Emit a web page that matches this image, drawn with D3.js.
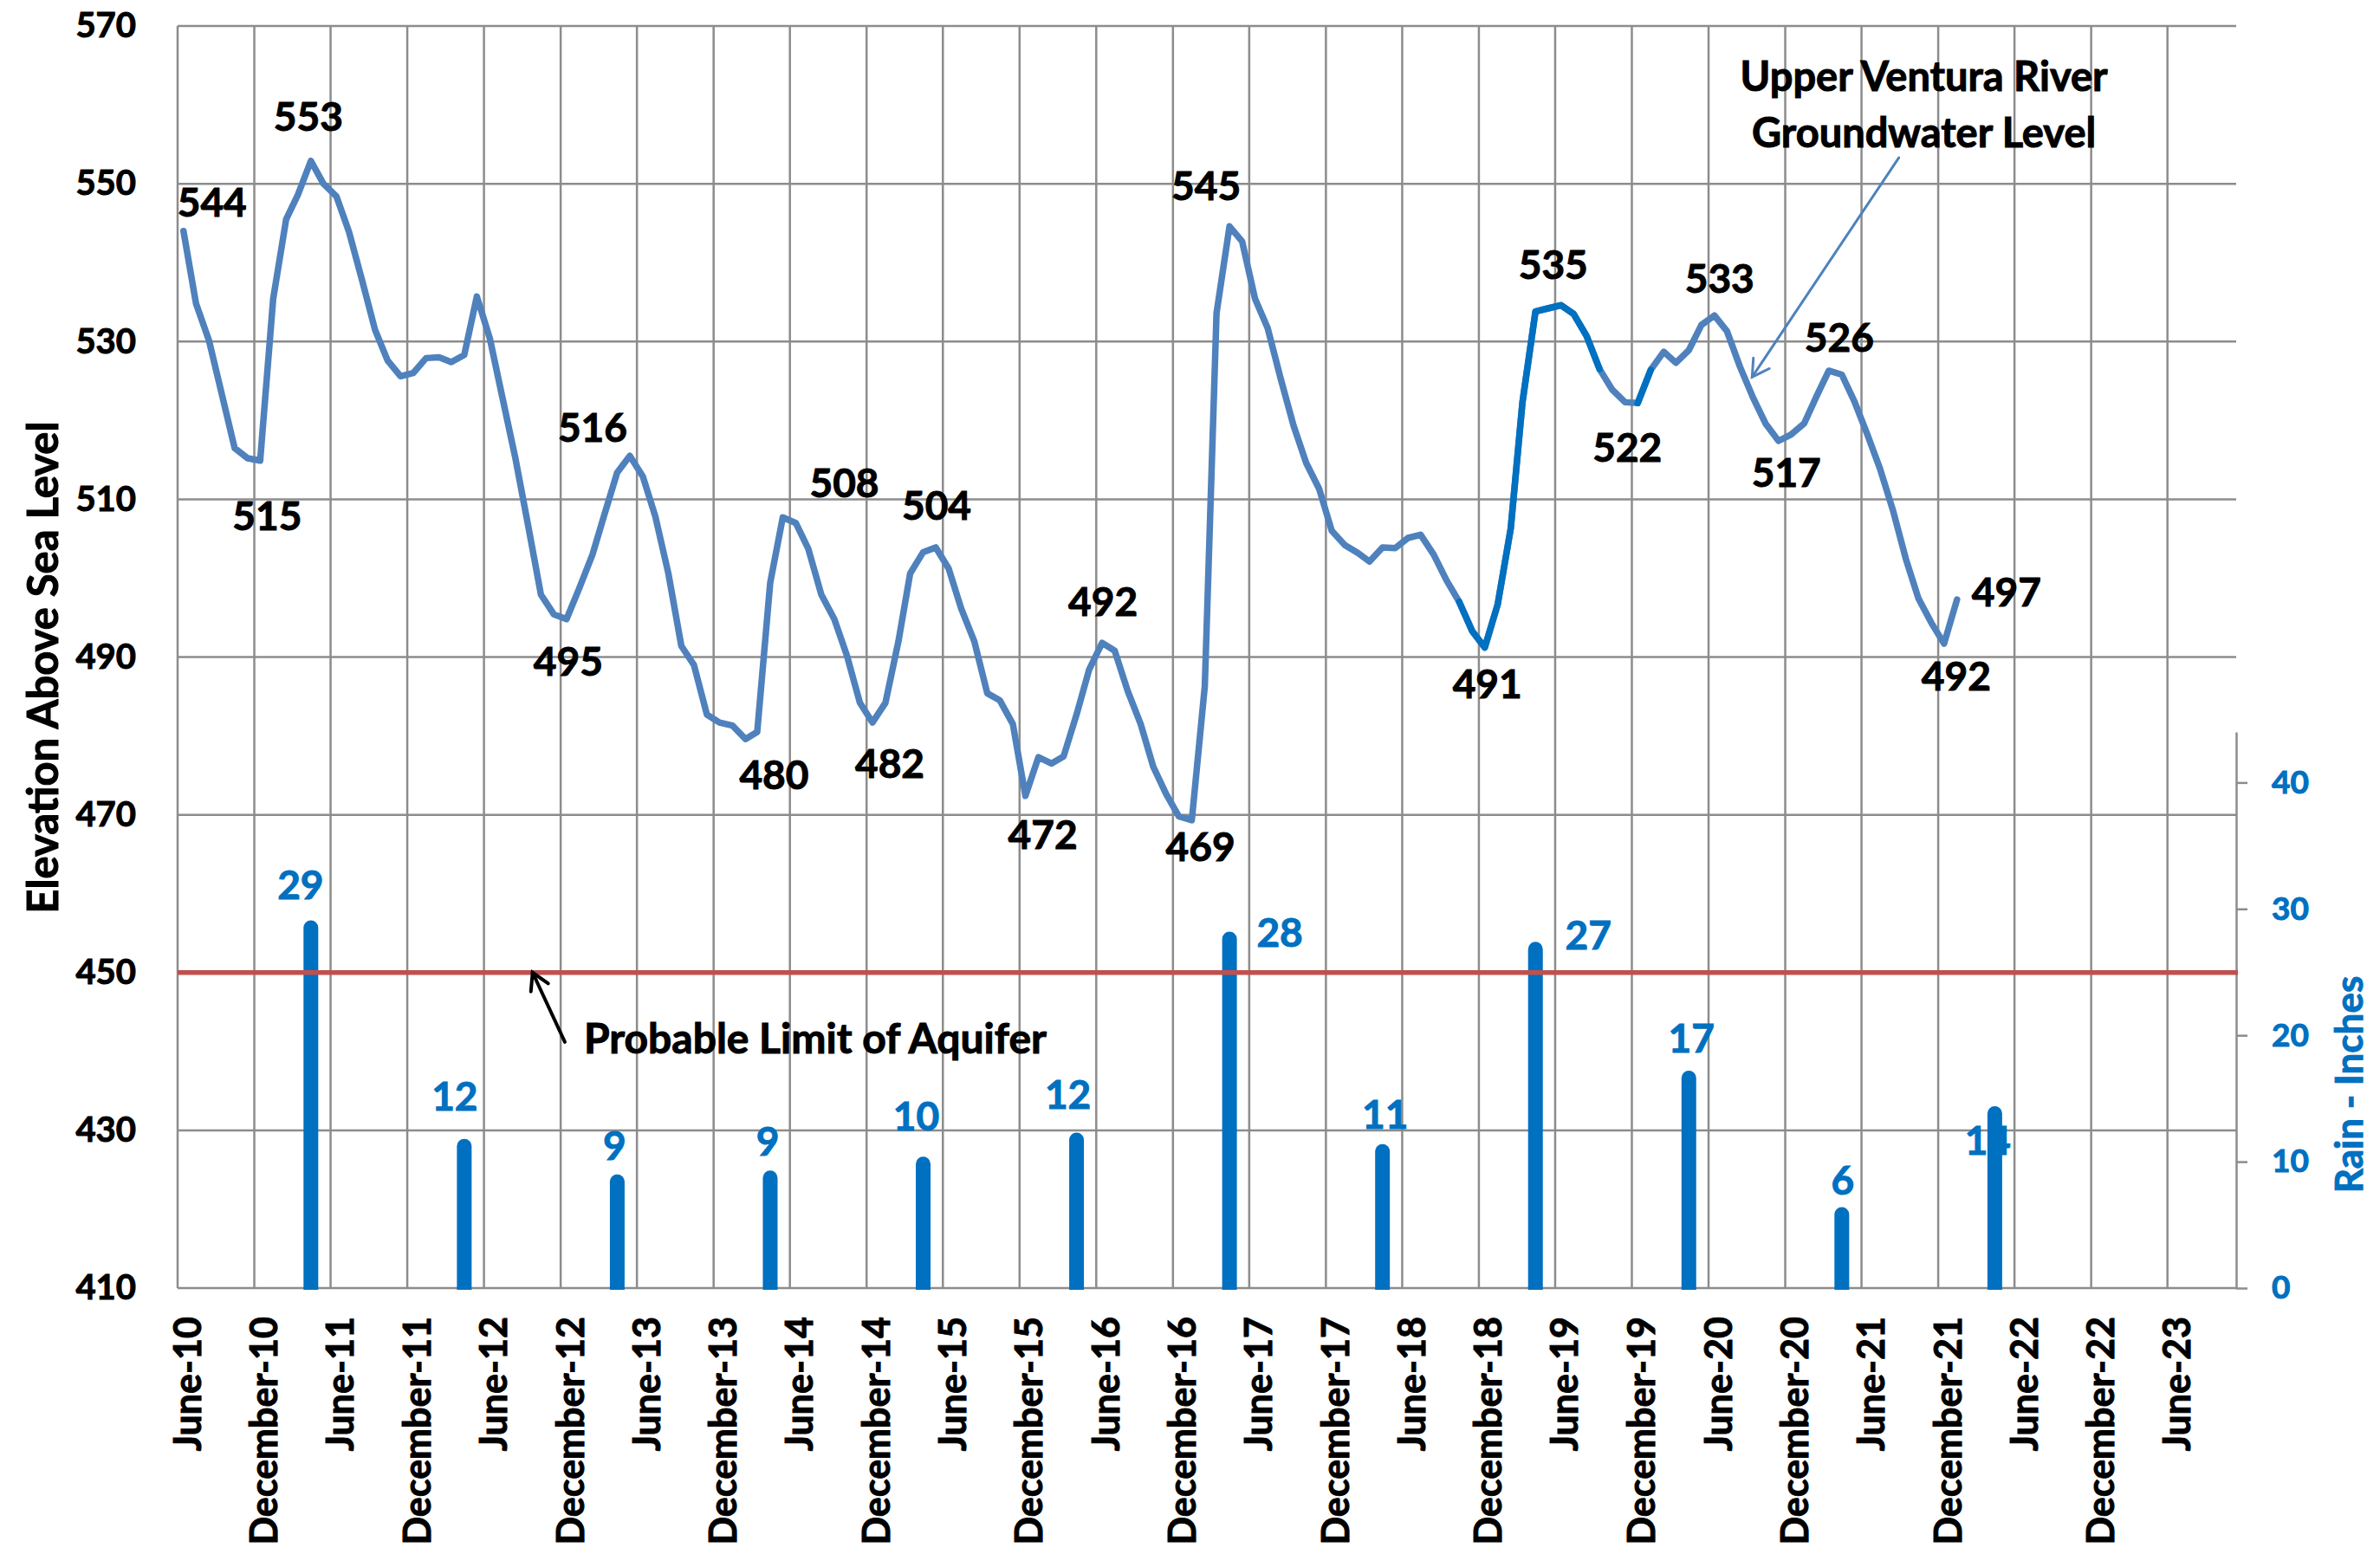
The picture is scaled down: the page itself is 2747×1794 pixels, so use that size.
<!DOCTYPE html>
<html>
<head>
<meta charset="utf-8">
<script src="https://cdn.jsdelivr.net/npm/d3@7"></script>
<style>
  body { margin: 0; background: #fff; }
  text { font-family: Lato, "Open Sans", sans-serif; font-weight: 700; stroke-width: 1px; }
</style>
</head>
<body>
<svg width="2747" height="1794"></svg>
<script>
// monthly groundwater level (ft), one reading per month starting June 2010
const levels = [
  544.0, 534.8, 530.1, 523.2, 516.5, 515.2, 514.9, 535.4, 545.5, 548.6,
  552.9, 550.0, 548.4, 543.9, 537.8, 531.5, 527.6, 525.6, 526.0, 527.9,
  528.0, 527.4, 528.3, 535.7, 530.4, 522.9, 515.2, 506.5, 497.9, 495.4,
  494.8, 498.8, 503.0, 508.0, 513.4, 515.5, 512.9, 507.8, 500.6, 491.4,
  489.0, 482.7, 481.7, 481.3, 479.6, 480.5, 499.4, 507.7, 507.0, 503.7,
  497.9, 494.8, 490.2, 484.2, 481.7, 484.2, 492.0, 500.6, 503.3, 503.9,
  501.2, 496.1, 492.0, 485.4, 484.5, 481.5, 472.4, 477.3, 476.5, 477.4,
  482.7, 488.4, 491.8, 490.8, 485.7, 481.5, 476.1, 472.6, 469.8, 469.3,
  486.3, 533.6, 544.6, 542.7, 535.4, 531.7, 525.3, 519.3, 514.6, 511.3,
  506.0, 504.2, 503.2, 502.1, 503.9, 503.8, 505.1, 505.5, 503.0, 499.7,
  497.0, 493.3, 491.2, 496.7, 506.3, 522.3, 533.8, 534.2, 534.6, 533.5,
  530.7, 526.5, 523.9, 522.3, 522.2, 526.4, 528.7, 527.3, 528.9, 532.1,
  533.3, 531.3, 526.8, 522.9, 519.6, 517.4, 518.2, 519.6, 523.2, 526.3,
  525.8, 522.4, 518.2, 513.9, 508.6, 502.4, 497.4, 494.3, 491.7, 497.3
];
// stretches of the line drawn in the darker blue (index ranges)
const darkRuns = [[100, 111], [114, 115]];

// labelled points: index into levels, label offset from the point
const levelLabels = [
  [0, 33, -33], [6, 8, 64], [10, -3, -51], [30, 2, 49], [35, -43, -33],
  [44, 33, 41], [47, 71, -40], [54, 20, 47], [59, 1, -48], [66, 20, 45],
  [72, 1, -48], [79, 10, 30], [82, -27, -47], [102, 3, 42], [108, -9, -47],
  [114, -12, 51], [120, 6, -43], [125, 9, 36], [129, 12, -39], [138, 14, 37],
  [139, 57, -9]
];

// annual rain (inches), plotted mid April
const rainYears = [2011, 2012, 2013, 2014, 2015, 2016, 2017, 2018, 2019, 2020, 2021, 2022];
const rainInches = [29.1, 11.8, 9.0, 9.3, 10.4, 12.3, 28.2, 11.4, 27.4, 17.2, 6.4, 14.4];
const rainLabelOffsets = [[-12, -41], [-11, -49], [-3, -33], [-3, -34], [-8, -47], [-10, -44],
  [58, 1], [3, -34], [61, -8], [3, -38], [1, -31], [-8, 40]];

const levelTicks = [410, 430, 450, 470, 490, 510, 530, 550, 570];
const rainTicks = [0, 10, 20, 30, 40];
const aquiferLimit = 450;

const svg = d3.select("svg");
const plotLeft = 205, plotRight = 2581, plotTop = 30, plotBottom = 1487;

const x = d3.scaleTime()
  .domain([new Date(2010, 5, 1), new Date(2023, 10, 12)])
  .range([plotLeft, plotRight]);
const yL = d3.scaleLinear().domain([410, 570]).range([plotBottom, plotTop]);
const yR = d3.scaleLinear().domain([0, 44]).range([plotBottom, 845]);

const dateTicks = [];
for (let yr = 2010; yr <= 2023; yr++) {
  dateTicks.push(new Date(yr, 5, 1));
  if (yr < 2023) dateTicks.push(new Date(yr, 11, 1));
}
const fmtDate = d3.timeFormat("%B-%y");

const gridColor = "#8c8c8c";
const blue = "#0070C0";

// grid
svg.append("g").selectAll("line").data(levelTicks).enter().append("line")
  .attr("x1", plotLeft).attr("x2", plotRight)
  .attr("y1", d => yL(d)).attr("y2", d => yL(d))
  .attr("stroke", gridColor).attr("stroke-width", 2.5);
svg.append("g").selectAll("line").data(dateTicks).enter().append("line")
  .attr("x1", d => x(d)).attr("x2", d => x(d))
  .attr("y1", plotTop).attr("y2", plotBottom)
  .attr("stroke", gridColor).attr("stroke-width", 2.5);

// left axis labels
const axL = svg.append("g").attr("transform", `translate(${plotLeft},0)`)
  .call(d3.axisLeft(yL).tickValues(levelTicks).tickSize(0).tickPadding(48));
axL.select(".domain").remove();
axL.selectAll("text").style("font-size", "40px").attr("fill", "#000").attr("stroke", "#000");

// bottom axis labels
const axB = svg.append("g").attr("transform", `translate(0,${plotBottom})`)
  .call(d3.axisBottom(x).tickValues(dateTicks).tickSize(0).tickFormat(fmtDate));
axB.select(".domain").remove();
axB.selectAll("text")
  .style("font-size", "43px").attr("fill", "#000").attr("stroke", "#000")
  .attr("text-anchor", "end")
  .attr("dy", null).attr("y", 0)
  .attr("transform", "translate(26,33) rotate(-90)");

// right axis (rain)
const axR = svg.append("g").attr("transform", `translate(${plotRight},0)`)
  .call(d3.axisRight(yR).tickValues(rainTicks).tickSize(13).tickSizeOuter(0).tickPadding(28));
axR.selectAll("path, line").attr("stroke", gridColor).attr("stroke-width", 2.5);
axR.selectAll("text").style("font-size", "37px").attr("fill", blue).attr("stroke", blue);

// axis titles
svg.append("text")
  .attr("transform", `translate(50,${(yL(570) + yL(410)) / 2 + 12}) rotate(-90)`)
  .attr("text-anchor", "middle").attr("dy", "0.35em")
  .attr("stroke", "#000")
  .style("font-size", "49px").text("Elevation Above Sea Level");
svg.append("text")
  .attr("transform", `translate(2712,1252) rotate(-90)`)
  .attr("text-anchor", "middle").attr("dy", "0.35em")
  .attr("fill", blue).attr("stroke", blue)
  .style("font-size", "44px").text("Rain - Inches");

// rain bars with rounded tops
const barW = 17;
const rain = rainYears.map((yr, i) => ({ date: new Date(yr, 3, 15), v: rainInches[i], off: rainLabelOffsets[i] }));
svg.append("g").selectAll("path").data(rain).enter().append("path")
  .attr("d", d => {
    const cx = x(d.date), r = barW / 2, t = yR(d.v);
    return `M${cx - r},${plotBottom + 2}L${cx - r},${t + r}A${r},${r} 0 0 1 ${cx + r},${t + r}L${cx + r},${plotBottom + 2}Z`;
  })
  .attr("fill", blue);
svg.append("g").selectAll("text").data(rain).enter().append("text")
  .attr("x", d => x(d.date) + d.off[0])
  .attr("y", d => yR(d.v) + d.off[1])
  .attr("dy", "0.36em").attr("text-anchor", "middle")
  .attr("fill", blue).attr("stroke", blue).style("font-size", "46px")
  .text(d => d3.format(".0f")(d.v));

// aquifer limit
svg.append("line")
  .attr("x1", plotLeft).attr("x2", plotRight + 2)
  .attr("y1", yL(aquiferLimit)).attr("y2", yL(aquiferLimit))
  .attr("stroke", "#C0504D").attr("stroke-width", 5.5);

// groundwater line
const pts = levels.map((v, i) => ({ date: new Date(2010, 5 + i, 15), v: v }));
const line = d3.line().x(d => x(d.date)).y(d => yL(d.v));
svg.append("path").datum(pts)
  .attr("d", line).attr("fill", "none")
  .attr("stroke", "#4F81BD").attr("stroke-width", 7.5)
  .attr("stroke-linejoin", "round").attr("stroke-linecap", "round");
darkRuns.forEach(([a, b]) => {
  svg.append("path").datum(pts.slice(a, b + 1))
    .attr("d", line).attr("fill", "none")
    .attr("stroke", blue).attr("stroke-width", 7.5)
    .attr("stroke-linejoin", "round").attr("stroke-linecap", "round");
});

svg.append("g").selectAll("text").data(levelLabels).enter().append("text")
  .attr("x", d => x(pts[d[0]].date) + d[1])
  .attr("y", d => yL(pts[d[0]].v) + d[2])
  .attr("dy", "0.36em").attr("text-anchor", "middle")
  .attr("stroke", "#000")
  .style("font-size", "46px")
  .text(d => d3.format(".0f")(pts[d[0]].v));

// annotations (placed in data space)
function arrow(from, to, color, width) {
  const x0 = x(from[0]), y0 = yL(from[1]), x1 = x(to[0]), y1 = yL(to[1]);
  const ang = Math.atan2(y0 - y1, x0 - x1), len = 22, spread = Math.PI / 6;
  const g = svg.append("g").attr("stroke", color).attr("stroke-width", width)
    .attr("fill", "none").attr("stroke-linecap", "round");
  g.append("line").attr("x1", x0).attr("y1", y0).attr("x2", x1).attr("y2", y1);
  g.append("path").attr("d",
    `M${x1 + len * Math.cos(ang - spread)},${y1 + len * Math.sin(ang - spread)}L${x1},${y1}` +
    `L${x1 + len * Math.cos(ang + spread)},${y1 + len * Math.sin(ang + spread)}`);
  return [x0, y0];
}

const a1 = arrow([new Date(2012, 11, 11), 441.2], [new Date(2012, 8, 25), aquiferLimit], "#000", 4);
svg.append("text").attr("x", a1[0] + 22).attr("y", a1[1] + 13)
  .attr("stroke", "#000")
  .style("font-size", "48px").text("Probable Limit of Aquifer");

const a2 = arrow([new Date(2021, 7, 29), 553.3], [new Date(2020, 8, 13), 525.5], "#4F81BD", 3);
svg.append("text").attr("x", a2[0] + 29).attr("y", a2[1] - 77)
  .attr("text-anchor", "middle").attr("stroke", "#000")
  .style("font-size", "47px").text("Upper Ventura River");
svg.append("text").attr("x", a2[0] + 29).attr("y", a2[1] - 12)
  .attr("text-anchor", "middle").attr("stroke", "#000")
  .style("font-size", "47px").text("Groundwater Level");
</script>
</body>
</html>
